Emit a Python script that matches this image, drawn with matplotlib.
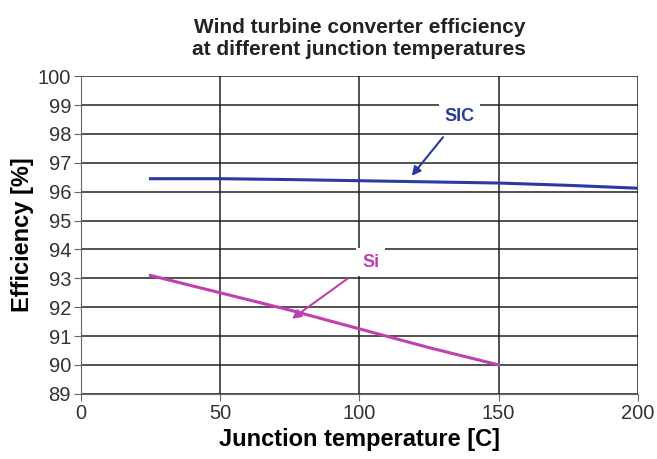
import matplotlib.pyplot as plt

plt.rcParams['font.family'] = ['Liberation Sans', 'DejaVu Sans']

# Data
temp_sic = [25, 50, 75, 100, 125, 150, 175, 200]
eff_sic = [96.45, 96.45, 96.42, 96.38, 96.34, 96.3, 96.22, 96.12]
temp_si = [25, 50, 75, 100, 125, 150]
eff_si = [93.1, 92.5, 91.9, 91.25, 90.6, 90.0]

fig = plt.figure(figsize=(6.57, 4.59), dpi=100)
ax = fig.add_axes([0.123, 0.142, 0.848, 0.692])

ax.plot(temp_sic, eff_sic, color="#2b3a9e", linewidth=2.2)
ax.plot(temp_si, eff_si, color="#c040b0", linewidth=2.2)

ax.set_xlim(0, 200)
ax.set_ylim(89, 100)
ax.set_xticks(range(0, 201, 50))
ax.set_yticks(range(89, 101))
ax.grid(True, color="#222222", linewidth=1.1)
ax.set_axisbelow(True)
for s in ["top", "right"]:
    ax.spines[s].set_visible(False)
ax.spines["left"].set_color("#666666")
ax.spines["bottom"].set_color("#666666")
ax.tick_params(direction="out", length=5, color="#666666", labelsize=14.5,
               labelcolor="#333333", pad=2)

ax.set_xlabel("Junction temperature [C]", fontsize=17, fontweight="bold", labelpad=4)
ax.set_ylabel("Efficiency [%]", fontsize=17, fontweight="bold", labelpad=3)
ax.set_title("Wind turbine converter efficiency\nat different junction temperatures",
             fontsize=15, fontweight="bold", pad=15, color="#222222")

# Annotations
ax.annotate("SIC", xy=(118.8, 96.55), xytext=(136, 98.6), color="#2b3a9e",
            fontsize=13, fontweight="bold", ha="center", va="center",
            bbox=dict(facecolor="white", edgecolor="none", pad=4),
            arrowprops=dict(arrowstyle="-|>", color="#2b3a9e", lw=1.5, shrinkA=6, shrinkB=0))
ax.annotate("Si", xy=(75.8, 91.6), xytext=(104, 93.56), color="#c040b0",
            fontsize=13, fontweight="bold", ha="center", va="center",
            bbox=dict(facecolor="white", edgecolor="none", pad=4),
            arrowprops=dict(arrowstyle="-|>", color="#c040b0", lw=1.5, shrinkA=8, shrinkB=0))

fig.savefig("out.png", dpi=100)
